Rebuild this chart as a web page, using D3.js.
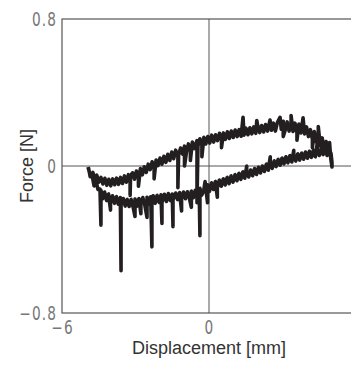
<!DOCTYPE html>
<html>
<head>
<meta charset="utf-8">
<script src="https://cdn.jsdelivr.net/npm/d3@7"></script>
<style>
  body { margin: 0; background: #fff; }
  svg { display: block; }
</style>
</head>
<body>
<div id="chart"></div>
<script>
let width = 351, height = 365;
let margin = { left: 62, top: 19 };
let plotW = 294, plotH = 294;

// ticks
let xTicks = [-6, 0, 6];
let yTicks = [-0.8, 0, 0.8];
let yLabels = ["\u22120.8", "0", "0.8"];
let xLabels = ["\u22126", "0", "6"];

// upper branch (loading): [displacement mm, force N]
let upperBranch = [
  [-4.94, -0.005], [-4.88, -0.035], [-4.80, -0.055], [-4.74, -0.035], [-4.66, -0.075], [-4.58, -0.05],
  [-4.50, -0.088], [-4.41, -0.062], [-4.33, -0.098], [-4.25, -0.067], [-4.17, -0.105], [-4.09, -0.072],
  [-4.01, -0.108], [-3.93, -0.07], [-3.85, -0.102], [-3.77, -0.066], [-3.69, -0.1], [-3.61, -0.062],
  [-3.53, -0.095], [-3.45, -0.054], [-3.37, -0.088], [-3.29, -0.047], [-3.22, -0.08], [-3.22, -0.16],
  [-3.20, -0.052], [-3.12, -0.037], [-3.04, -0.072], [-2.96, -0.027], [-2.88, -0.06], [-2.88, -0.11],
  [-2.80, -0.014], [-2.72, -0.048], [-2.64, -0.004], [-2.56, -0.035], [-2.48, 0.01], [-2.40, -0.02],
  [-2.32, 0.023], [-2.24, -0.01], [-2.24, -0.07], [-2.16, 0.033], [-2.08, 0.002], [-2.00, 0.043],
  [-1.92, 0.01], [-1.84, 0.053], [-1.76, 0.02], [-1.68, 0.064], [-1.60, 0.03], [-1.52, 0.076],
  [-1.44, 0.04], [-1.36, 0.086], [-1.27, 0.052], [-1.27, -0.118], [-1.24, 0.06], [-1.16, 0.098],
  [-1.08, 0.065], [-1.00, 0.108], [-1.00, 0.0], [-0.92, 0.075], [-0.84, 0.12], [-0.76, 0.085],
  [-0.76, 0.03], [-0.68, 0.13], [-0.60, 0.095], [-0.49, 0.138], [-0.49, -0.2], [-0.45, 0.11],
  [-0.37, 0.148], [-0.29, 0.112], [-0.29, 0.05], [-0.21, 0.156], [-0.13, 0.12], [-0.05, 0.16],
  [0.03, 0.125], [0.11, 0.168], [0.19, 0.13], [0.27, 0.17], [0.35, 0.138], [0.43, 0.178],
  [0.51, 0.14], [0.51, 0.1], [0.59, 0.18], [0.67, 0.145], [0.75, 0.186], [0.83, 0.15],
  [0.91, 0.19], [0.99, 0.155], [1.07, 0.196], [1.15, 0.16], [1.23, 0.198], [1.31, 0.162],
  [1.39, 0.265], [1.43, 0.168], [1.51, 0.206], [1.59, 0.17], [1.67, 0.208], [1.75, 0.175],
  [1.83, 0.213], [1.91, 0.178], [1.95, 0.248], [1.99, 0.218], [2.07, 0.182], [2.15, 0.22],
  [2.23, 0.185], [2.31, 0.226], [2.39, 0.19], [2.49, 0.25], [2.55, 0.195], [2.63, 0.233],
  [2.71, 0.19], [2.79, 0.236], [2.90, 0.265], [2.95, 0.2], [3.03, 0.243], [3.03, 0.16],
  [3.11, 0.195], [3.19, 0.24], [3.27, 0.19], [3.35, 0.236], [3.35, 0.275], [3.43, 0.188],
  [3.51, 0.233], [3.59, 0.182], [3.59, 0.14], [3.67, 0.228], [3.75, 0.18], [3.84, 0.262],
  [3.90, 0.175], [3.98, 0.213], [4.06, 0.16], [4.14, 0.198], [4.22, 0.145], [4.22, 0.1],
  [4.30, 0.188], [4.38, 0.13], [4.46, 0.173], [4.46, 0.215], [4.54, 0.11], [4.62, 0.153],
  [4.70, 0.09], [4.78, 0.133], [4.86, 0.07], [4.92, 0.128], [4.97, 0.04], [5.02, -0.005]
];

// lower branch (unloading): [displacement mm, force N]
let lowerBranch = [
  [5.02, 0.02], [4.98, 0.068], [4.90, 0.093], [4.82, 0.057], [4.74, 0.098], [4.66, 0.062],
  [4.58, 0.096], [4.50, 0.057], [4.42, 0.09], [4.42, 0.125], [4.34, 0.05], [4.26, 0.086],
  [4.18, 0.047], [4.10, 0.08], [4.02, 0.042], [3.94, 0.076], [3.86, 0.037], [3.78, 0.07],
  [3.70, 0.032], [3.62, 0.066], [3.54, 0.027], [3.46, 0.06], [3.46, 0.085], [3.38, 0.022],
  [3.30, 0.056], [3.22, 0.017], [3.14, 0.05], [3.06, 0.012], [2.98, 0.043], [2.90, 0.004],
  [2.82, 0.036], [2.74, -0.003], [2.66, 0.028], [2.58, -0.013], [2.50, 0.018], [2.50, 0.05],
  [2.42, -0.023], [2.34, 0.01], [2.26, -0.03], [2.18, 0.0], [2.10, -0.038], [2.02, -0.007],
  [1.94, -0.046], [1.86, -0.014], [1.78, -0.053], [1.70, -0.022], [1.62, -0.06], [1.54, -0.027],
  [1.54, 0.0], [1.46, -0.066], [1.38, -0.032], [1.30, -0.073], [1.22, -0.04], [1.14, -0.08],
  [1.06, -0.047], [0.98, -0.088], [0.90, -0.054], [0.82, -0.096], [0.74, -0.062], [0.66, -0.103],
  [0.58, -0.07], [0.50, -0.11], [0.42, -0.077], [0.34, -0.118], [0.34, -0.17], [0.26, -0.084],
  [0.18, -0.128], [0.10, -0.092], [0.02, -0.138], [-0.06, -0.102], [-0.06, -0.2], [-0.16, -0.085],
  [-0.22, -0.138], [-0.30, -0.158], [-0.37, -0.122], [-0.37, -0.379], [-0.40, -0.137], [-0.48, -0.168],
  [-0.56, -0.132], [-0.64, -0.173], [-0.72, -0.137], [-0.72, -0.225], [-0.80, -0.176], [-0.88, -0.14],
  [-0.96, -0.178], [-1.04, -0.142], [-1.12, -0.18], [-1.12, -0.245], [-1.20, -0.144], [-1.28, -0.183],
  [-1.36, -0.147], [-1.47, -0.186], [-1.47, -0.33], [-1.50, -0.152], [-1.58, -0.188], [-1.66, -0.15],
  [-1.74, -0.193], [-1.82, -0.154], [-1.92, -0.198], [-1.92, -0.313], [-1.96, -0.157], [-2.04, -0.198],
  [-2.12, -0.16], [-2.20, -0.203], [-2.28, -0.162], [-2.33, -0.208], [-2.33, -0.44], [-2.38, -0.167],
  [-2.46, -0.208], [-2.53, -0.17], [-2.53, -0.28], [-2.62, -0.213], [-2.70, -0.172], [-2.78, -0.208],
  [-2.78, -0.26], [-2.86, -0.177], [-2.94, -0.218], [-3.02, -0.18], [-3.02, -0.275], [-3.10, -0.223],
  [-3.18, -0.182], [-3.26, -0.22], [-3.34, -0.182], [-3.42, -0.218], [-3.50, -0.177], [-3.59, -0.213],
  [-3.59, -0.57], [-3.62, -0.172], [-3.70, -0.208], [-3.78, -0.167], [-3.86, -0.203], [-3.94, -0.162],
  [-4.02, -0.198], [-4.02, -0.24], [-4.10, -0.152], [-4.18, -0.188], [-4.26, -0.142], [-4.34, -0.178],
  [-4.41, -0.132], [-4.41, -0.322], [-4.45, -0.125], [-4.53, -0.128], [-4.61, -0.082], [-4.69, -0.108],
  [-4.77, -0.052], [-4.85, -0.058], [-4.92, -0.008]
];

let data = upperBranch.concat(lowerBranch);

let xScale = d3.scaleLinear().domain([-6, 6]).range([margin.left, margin.left + plotW]);
let yScale = d3.scaleLinear().domain([-0.8, 0.8]).range([margin.top + plotH, margin.top]);

let svg = d3.select("#chart")
  .append("svg")
  .attr("width", width)
  .attr("height", height);

let axisColor = "#555";

// frame
svg.append("rect")
  .attr("x", xScale(-6))
  .attr("y", yScale(0.8))
  .attr("width", xScale(6) - xScale(-6))
  .attr("height", yScale(-0.8) - yScale(0.8))
  .attr("fill", "none")
  .attr("stroke", axisColor)
  .attr("stroke-width", 1.2);

// zero lines
svg.append("line")
  .attr("x1", xScale(0)).attr("x2", xScale(0))
  .attr("y1", yScale(0.8)).attr("y2", yScale(-0.8))
  .attr("stroke", axisColor).attr("stroke-width", 1);
svg.append("line")
  .attr("x1", xScale(-6)).attr("x2", xScale(6))
  .attr("y1", yScale(0)).attr("y2", yScale(0))
  .attr("stroke", axisColor).attr("stroke-width", 1);

let yAxis = d3.axisLeft(yScale)
  .tickValues(yTicks)
  .tickSize(0)
  .tickPadding(6)
  .tickFormat((d, i) => yLabels[i]);
let xAxis = d3.axisBottom(xScale)
  .tickValues(xTicks)
  .tickSize(0)
  .tickPadding(8)
  .tickFormat((d, i) => xLabels[i]);

let gy = svg.append("g")
  .attr("transform", "translate(" + margin.left + ",0)")
  .call(yAxis);
let gx = svg.append("g")
  .attr("transform", "translate(0," + (margin.top + plotH) + ")")
  .call(xAxis);

// narrow, light tick digits
[gx, gy].forEach(g => {
  g.select(".domain").remove();
  g.selectAll("text")
    .attr("font-family", "'Liberation Sans Narrow', 'DejaVu Sans Condensed', sans-serif")
    .attr("font-size", "19px")
    .attr("letter-spacing", "1.5px")
    .attr("transform", "scale(0.8,1)")
    .attr("fill", "#777");
});

// loop
let line = d3.line()
  .x(d => xScale(d[0]))
  .y(d => yScale(d[1]));

svg.append("path")
  .datum(data)
  .attr("d", line)
  .attr("fill", "none")
  .attr("stroke", "#231f20")
  .attr("stroke-width", 3.6)
  .attr("stroke-linejoin", "round");

// axis titles
svg.append("text")
  .text("Displacement [mm]")
  .attr("x", xScale(0))
  .attr("y", 354)
  .attr("text-anchor", "middle")
  .attr("font-family", "'Liberation Sans', Arial, sans-serif")
  .attr("font-size", "18px")
  .attr("fill", "#333");

svg.append("text")
  .text("Force [N]")
  .attr("transform", "translate(33," + yScale(0) + ") rotate(-90)")
  .attr("text-anchor", "middle")
  .attr("font-family", "'Liberation Sans', Arial, sans-serif")
  .attr("font-size", "18px")
  .attr("fill", "#333");
</script>
</body>
</html>
